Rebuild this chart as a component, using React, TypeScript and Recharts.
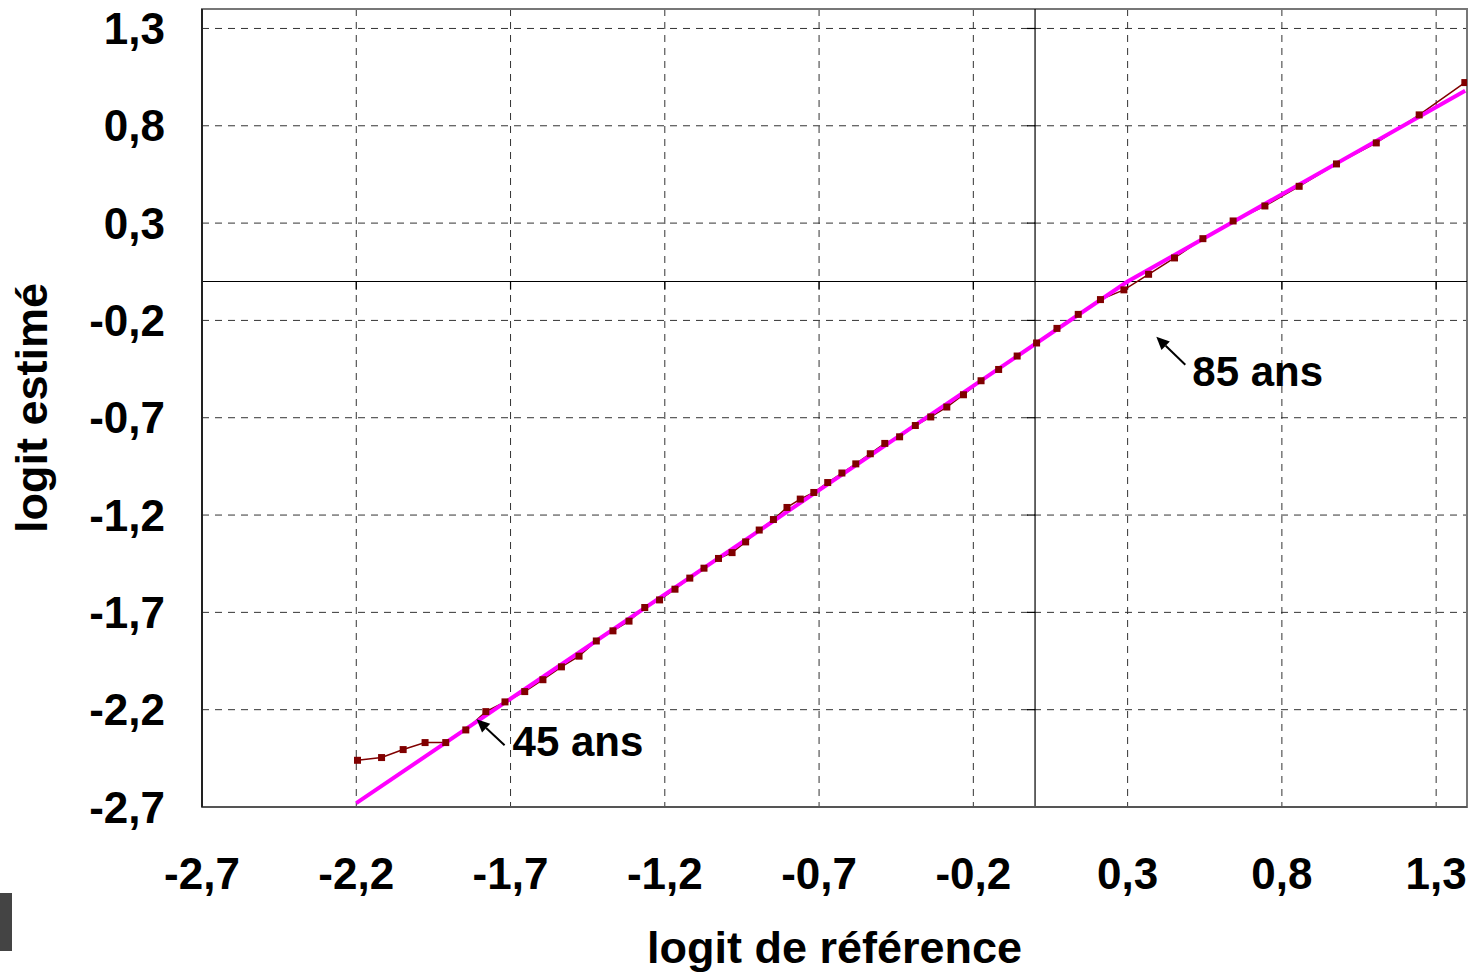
import React from "react";
import {
    ComposedChart,
    Line,
    XAxis,
    YAxis,
    CartesianGrid,
    ReferenceLine,
    ReferenceArea,
    ReferenceDot
} from "recharts";

// logit de référence (x) / logit estimé (y), âges 39 à 94
const refLogit = [
    -2.196, -2.118, -2.048, -1.977, -1.910, -1.845, -1.780, -1.718, -1.654, -1.595,
    -1.535, -1.478, -1.422, -1.368, -1.316, -1.265, -1.217, -1.167, -1.119, -1.073,
    -1.026, -0.982, -0.938, -0.894, -0.848, -0.804, -0.761, -0.717, -0.672, -0.626,
    -0.581, -0.534, -0.487, -0.439, -0.388, -0.338, -0.286, -0.232, -0.175, -0.118,
    -0.058, 0.005, 0.071, 0.140, 0.212, 0.288, 0.368, 0.452, 0.544, 0.642,
    0.745, 0.856, 0.977, 1.106, 1.245, 1.393
];
const estLogit = [
    -2.460, -2.446, -2.405, -2.369, -2.369, -2.304, -2.210, -2.160, -2.107, -2.046,
    -1.980, -1.925, -1.847, -1.795, -1.745, -1.675, -1.636, -1.581, -1.524, -1.473,
    -1.423, -1.393, -1.338, -1.277, -1.223, -1.161, -1.118, -1.084, -1.033, -0.984,
    -0.937, -0.885, -0.832, -0.798, -0.740, -0.696, -0.645, -0.582, -0.510, -0.452,
    -0.383, -0.316, -0.241, -0.169, -0.093, -0.043, 0.037, 0.121, 0.220, 0.311,
    0.388, 0.489, 0.604, 0.712, 0.856, 1.022
];

// droite ajustée (deux segments)
const fitX = [-2.2, 0.3, 1.394];
const fitY = [-2.68, 0.0, 0.98];

const axisTicks = [-2.7, -2.2, -1.7, -1.2, -0.7, -0.2, 0.3, 0.8, 1.3];
const axisDomain = [-2.7, 1.4];

// annotations : pointe de la flèche
const notes = [
    { label: "45 ans", x: -1.81, y: -2.249, tail: [28, 26], text: [36, 37] },
    { label: "85 ans", x: 0.393, y: -0.284, tail: [29, 28], text: [36, 49] }
];

const observed = refLogit.map((x, i) => ({ x, y: estLogit[i] }));
const fitted = fitX.map((x, i) => ({ x, y: fitY[i] }));

const font = "'Liberation Sans', Arial, sans-serif";
const fmt = (v: number) => v.toFixed(1).replace(".", ",");

const Square = (p: any) => {
    if (p.cx == null || p.cy == null) return null;
    return <rect key={p.index} x={p.cx - 3.5} y={p.cy - 3.5} width={7} height={7} fill="#800000" />;
};

const Callout = ({ cx, cy, note }: any) => {
    const tx = cx + note.tail[0];
    const ty = cy + note.tail[1];
    const len = Math.hypot(tx - cx, ty - cy);
    const ux = (tx - cx) / len;
    const uy = (ty - cy) / len;
    const head = 13;
    const bx = cx + ux * head;
    const by = cy + uy * head;
    return (
        <g>
            <line x1={tx} y1={ty} x2={bx} y2={by} stroke="#000" strokeWidth={2} />
            <polygon
                points={`${cx},${cy} ${bx - uy * 6},${by + ux * 6} ${bx + uy * 6},${by - ux * 6}`}
                fill="#000"
            />
            <text
                x={cx + note.text[0]}
                y={cy + note.text[1]}
                fontFamily={font}
                fontWeight="bold"
                fontSize={42}
                fill="#000"
            >
                {note.label}
            </text>
        </g>
    );
};

export default function App() {
    const tickStyle = { fill: "#000", fontSize: 44, fontWeight: "bold", fontFamily: font };
    return (
        <div style={{ position: "absolute", left: 0, top: 0, width: 1472, height: 974, background: "#fff" }}>
            <ComposedChart width={1472} height={974} margin={{ top: 9, right: 5, left: 0, bottom: 0 }}>
                <CartesianGrid stroke="#333" strokeDasharray="7 6" />
                <XAxis
                    type="number"
                    dataKey="x"
                    domain={axisDomain}
                    ticks={axisTicks}
                    interval={0}
                    allowDataOverflow
                    height={167}
                    tickLine={false}
                    tickSize={0}
                    tickMargin={51}
                    axisLine={{ stroke: "#555", strokeWidth: 2 }}
                    tickFormatter={fmt}
                    tick={tickStyle}
                    label={{
                        value: "logit de référence",
                        position: "insideBottom",
                        offset: 11,
                        fill: "#000",
                        fontSize: 45,
                        fontWeight: "bold",
                        fontFamily: font
                    }}
                />
                <YAxis
                    type="number"
                    dataKey="y"
                    domain={axisDomain}
                    ticks={axisTicks}
                    interval={0}
                    allowDataOverflow
                    width={202}
                    tickLine={false}
                    tickSize={0}
                    tickMargin={37}
                    axisLine={{ stroke: "#222", strokeWidth: 2 }}
                    tickFormatter={fmt}
                    tick={tickStyle}
                    label={{
                        content: (p: any) => {
                            const vb = p.viewBox;
                            const x = vb.x + 31;
                            const y = vb.y + vb.height / 2;
                            return (
                                <text
                                    x={x}
                                    y={y}
                                    dy="0.355em"
                                    transform={`rotate(-90 ${x} ${y})`}
                                    textAnchor="middle"
                                    fontFamily={font}
                                    fontWeight="bold"
                                    fontSize={45}
                                    fill="#000"
                                >
                                    logit estimé
                                </text>
                            );
                        }
                    }}
                />
                <ReferenceArea
                    x1={axisDomain[0]}
                    x2={axisDomain[1]}
                    y1={axisDomain[0]}
                    y2={axisDomain[1]}
                    fill="none"
                    stroke="#777"
                    strokeWidth={2}
                />
                <ReferenceLine x={0} stroke="#000" strokeWidth={1.2} />
                <ReferenceLine y={0} stroke="#000" strokeWidth={1.2} />
                {axisTicks.map((t) => (
                    <ReferenceLine
                        key={"xt" + t}
                        segment={[{ x: t, y: 0 }, { x: t, y: -0.042 }]}
                        stroke="#000"
                        strokeWidth={1.2}
                    />
                ))}
                {axisTicks.map((t) => (
                    <ReferenceLine
                        key={"yt" + t}
                        segment={[{ x: 0, y: t }, { x: -0.026, y: t }]}
                        stroke="#000"
                        strokeWidth={1.2}
                    />
                ))}
                <Line
                    data={observed}
                    dataKey="y"
                    type="linear"
                    stroke="#800000"
                    strokeWidth={1.5}
                    dot={false}
                    activeDot={false}
                    isAnimationActive={false}
                />
                <Line
                    data={fitted}
                    dataKey="y"
                    type="linear"
                    stroke="#FF00FF"
                    strokeWidth={4}
                    dot={false}
                    activeDot={false}
                    isAnimationActive={false}
                />
                <Line
                    data={observed}
                    dataKey="y"
                    type="linear"
                    stroke="none"
                    dot={Square}
                    activeDot={false}
                    isAnimationActive={false}
                />
                {notes.map((n) => (
                    <ReferenceDot
                        key={n.label}
                        x={n.x}
                        y={n.y}
                        r={1}
                        shape={(p: any) => <Callout cx={p.cx} cy={p.cy} note={n} />}
                    />
                ))}
            </ComposedChart>
            <div style={{ position: "absolute", left: 0, top: 893, width: 12, height: 58, background: "#444" }} />
        </div>
    );
}
